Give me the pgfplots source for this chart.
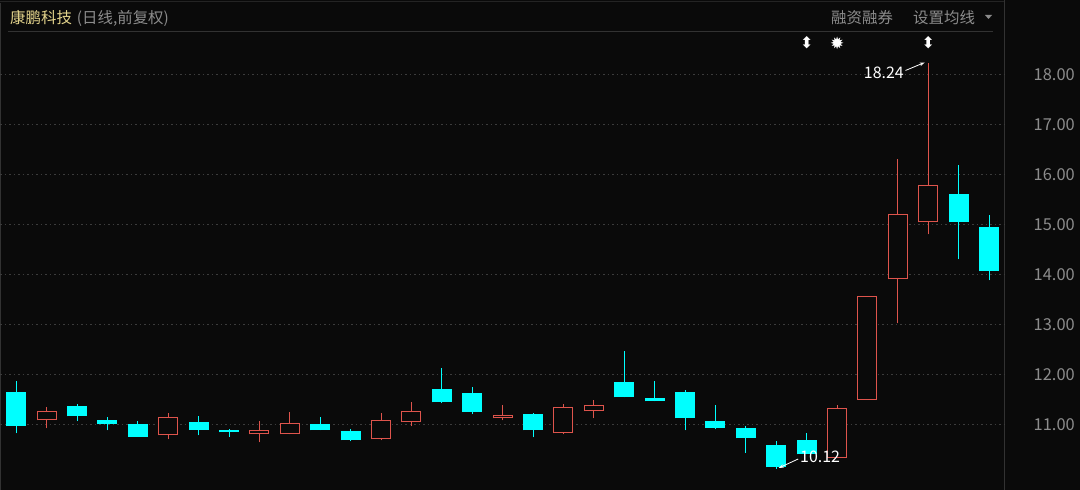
\documentclass[border=0pt]{standalone}
\usepackage{fontspec}
\usepackage{pgfplots}
\usepackage{pgfplotstable}
\pgfplotsset{compat=1.18}
\usetikzlibrary{arrows.meta}
\setmainfont{Noto Sans CJK SC}
\newfontfamily\sym{DejaVu Sans}
\definecolor{bg}{RGB}{10,10,10}
\definecolor{upred}{RGB}{222,84,76}
\definecolor{dncyan}{RGB}{0,255,255}
\definecolor{gridc}{RGB}{60,60,60}
\definecolor{tickc}{RGB}{140,140,140}
\definecolor{titley}{RGB}{228,212,140}
\definecolor{linec}{RGB}{50,50,50}
\definecolor{framec}{RGB}{36,36,36}

% up (red, hollow) candles: index open high low close
\pgfplotstableread{
i  o     h     l     c
2  11.09 11.35 10.93 11.28
6  10.79 11.24 10.71 11.15
9  10.81 11.08 10.65 10.90
10 10.81 11.26 10.81 11.03
13 10.71 11.24 10.69 11.10
14 11.05 11.46 10.97 11.28
17 11.13 11.39 11.09 11.20
19 10.83 11.42 10.81 11.35
20 11.27 11.49 11.13 11.40
28 10.33 11.40 10.33 11.33
29 11.50 13.58 11.50 13.58
30 13.91 16.32 13.03 15.21
31 15.05 18.24 14.81 15.79
}\upT

% down (cyan, filled) candles: index open high low close
\pgfplotstableread{
i  o     h     l     c
1  11.65 11.88 10.83 10.97
3  11.38 11.42 11.08 11.17
4  11.10 11.15 10.89 11.01
5  11.01 11.08 10.76 10.76
7  11.06 11.17 10.79 10.90
8  10.90 10.92 10.76 10.85
11 11.01 11.15 10.89 10.89
12 10.87 10.92 10.67 10.69
15 11.72 12.14 11.43 11.45
16 11.63 11.76 11.21 11.26
18 11.21 11.24 10.75 10.89
21 11.85 12.47 11.55 11.55
22 11.54 11.87 11.47 11.47
23 11.65 11.69 10.89 11.13
24 11.08 11.40 10.91 10.94
25 10.93 10.98 10.44 10.73
26 10.60 10.67 10.12 10.15
27 10.70 10.83 10.41 10.41
32 15.62 16.20 14.31 15.05
33 14.95 15.19 13.89 14.07
}\dnT

\begin{document}
\begin{tikzpicture}[x=1bp,y=1bp]
\useasboundingbox (0,0) rectangle (1080,490);
\fill[bg] (0,0) rectangle (1080,490);
% frame lines
\draw[framec, line width=1bp] (0,488) -- (1004,488);
\draw[linec, line width=1.5bp] (0.75,0) -- (0.75,487);
\draw[linec, line width=1bp] (1004.5,0) -- (1004.5,490);
\draw[linec, line width=1bp] (8,458.5) -- (993,458.5);
% header texts
\node[anchor=west, inner sep=0pt, font=\fontsize{15.5}{17}\selectfont] at (10,472)
  {\textcolor{titley}{康鹏科技}\hspace{5bp}\textcolor{tickc}{(日线,前复权)}};
\node[anchor=west, inner sep=0pt, font=\fontsize{15.5}{17}\selectfont, text=tickc] at (831,472) {融资融券};
\node[anchor=west, inner sep=0pt, font=\fontsize{15.5}{17}\selectfont, text=tickc] at (913,472) {设置均线};
\fill[tickc] (985,475) -- (992,475) -- (988.5,471) -- cycle;

\begin{axis}[
  at={(0,0)}, anchor=south west,
  scale only axis, width=1004bp, height=458bp,
  xmin=0.465, xmax=33.49, ymin=9.70, ymax=18.86,
  axis line style={draw=none},
  xtick=\empty,
  ytick={11,12,...,18},
  yticklabel pos=right,
  major tick length=0pt,
  ymajorgrids,
  grid style={gridc, line width=1bp, dash pattern=on 1.5bp off 3bp},
  yticklabel style={anchor=east, inner sep=0pt, xshift=71bp, text=tickc,
     font=\fontsize{16.5}{18}\selectfont},
  candle/.style={draw=none, mark=none, forget plot,
     error bars/.cd, y dir=plus, y explicit, error mark=none},
  /pgf/number format/.cd, fixed, fixed zerofill, precision=2, assume math mode=true,
]
% wicks
\addplot[candle, error bar style={draw=upred, line width=1bp}]
  table[x=i, y=l, y error plus expr=\thisrow{h}-\thisrow{l}] {\upT};
\addplot[candle, error bar style={draw=dncyan, line width=1bp}]
  table[x=i, y=l, y error plus expr=\thisrow{h}-\thisrow{l}] {\dnT};
% down bodies (filled cyan)
\addplot[candle, error bar style={draw=dncyan, line width=20bp, line cap=butt}]
  table[x=i, y=c, y error plus expr=\thisrow{o}-\thisrow{c}] {\dnT};
% up bodies (hollow red): outline then inner
\addplot[candle, error bar style={draw=upred, line width=20bp, line cap=butt}]
  table[x=i, y=o, y error plus expr=\thisrow{c}-\thisrow{o}] {\upT};
\addplot[candle, error bar style={draw=bg, line width=18bp, line cap=butt}]
  table[x=i, y expr=\thisrow{o}+0.02, y error plus expr=\thisrow{c}-\thisrow{o}-0.04] {\upT};

% annotations
\node[anchor=east, inner sep=0pt, text=white, font=\fontsize{16}{18}\selectfont] at (axis cs:30.2,18.05) {18.24};
\draw[white, line width=0.8bp, -{Stealth[length=5bp,width=3.5bp]}] (axis cs:30.25,18.09) -- (axis cs:30.88,18.25);
\node[anchor=west, inner sep=0pt, text=white, font=\fontsize{16}{18}\selectfont] at (axis cs:26.78,10.37) {10.12};
\draw[white, line width=0.8bp, -{Stealth[length=5bp,width=3.5bp]}] (axis cs:26.72,10.32) -- (axis cs:26.08,10.14);
\node[text=white, inner sep=0pt, font=\sym\fontsize{16}{16}\selectfont] at (axis cs:27,18.64) {⬍};
\node[text=white, inner sep=0pt, font=\sym\fontsize{17}{17}\selectfont] at (axis cs:28,18.64) {✹};
\node[text=white, inner sep=0pt, font=\sym\fontsize{16}{16}\selectfont] at (axis cs:31,18.64) {⬍};
\end{axis}
\end{tikzpicture}
\end{document}
